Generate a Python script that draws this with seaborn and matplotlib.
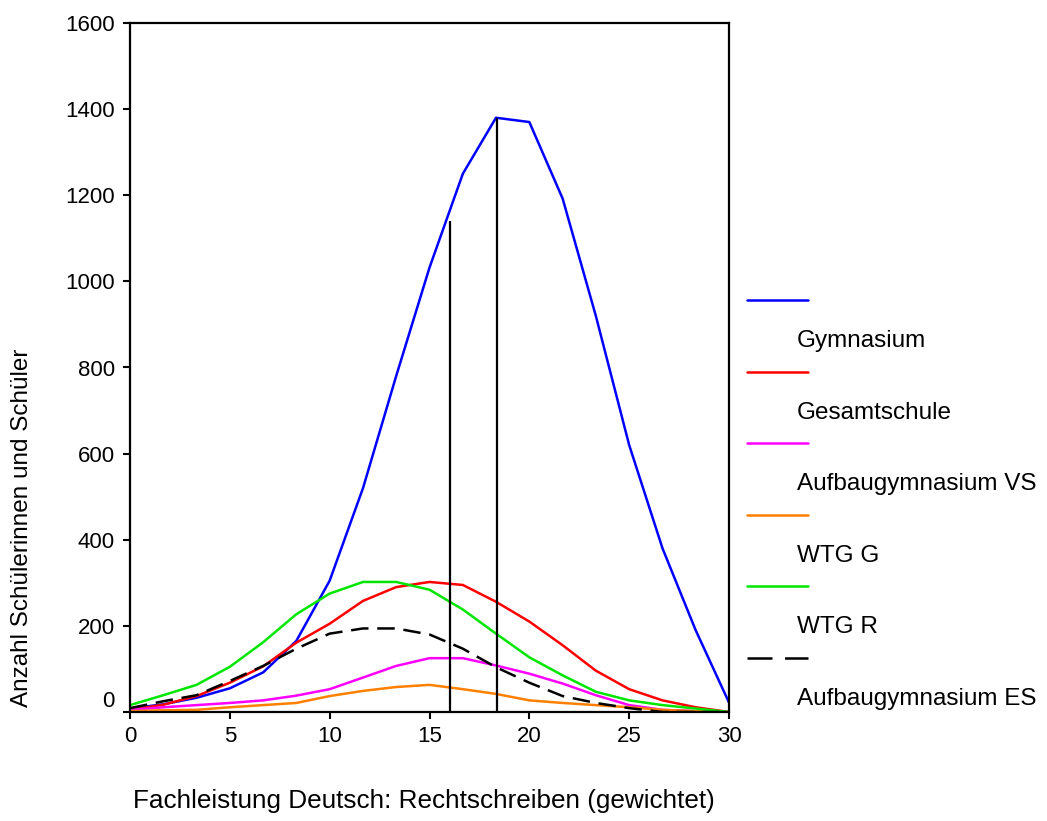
import numpy as np
import pandas as pd
import matplotlib
matplotlib.use("Agg")
import matplotlib.pyplot as plt
import matplotlib.transforms as mtransforms
from matplotlib.lines import Line2D
import seaborn as sns

# ---- data ----
x_points = [0, 1.67, 3.33, 5, 6.67, 8.33, 10, 11.67, 13.33, 15, 16.67, 18.33,
            20, 21.67, 23.33, 25, 26.67, 28.33, 30]

gymnasium = [8, 18, 33, 55, 92, 165, 305, 520, 780, 1032, 1250, 1380,
             1370, 1192, 920, 620, 380, 190, 22]
gesamtschule = [5, 17, 37, 68, 106, 161, 205, 258, 290, 302, 295, 256,
                210, 155, 96, 53, 27, 11, 0]
aufbau_vs = [5, 11, 16, 21, 27, 38, 53, 80, 107, 125, 125, 108,
             89, 66, 39, 16, 5, 2, 0]
wtg_g = [2, 4, 5, 11, 16, 21, 37, 49, 58, 63, 53, 42,
         27, 21, 16, 11, 5, 2, 0]
wtg_r = [16, 39, 63, 105, 162, 227, 275, 302, 302, 284, 238, 182,
         127, 85, 47, 27, 16, 8, 0]
aufbau_es = [9, 25, 39, 72, 107, 147, 182, 194, 194, 180, 147, 104,
             68, 37, 21, 9, 0, 0, 0]

series_names = ["Gymnasium", "Gesamtschule", "Aufbaugymnasium VS",
                "WTG G", "WTG R", "Aufbaugymnasium ES"]
series_values = [gymnasium, gesamtschule, aufbau_vs, wtg_g, wtg_r, aufbau_es]
series_colors = ["#0000ff", "#ff0000", "#ff00ff", "#ff8000", "#00e600", "#000000"]
series_dashes = [(), (), (), (), (), (7, 3.5)]

# reference lines (x position, height)
ref_x = [16.02, 18.38]
ref_top = [1140, 1380]

x_ticks = [0, 5, 10, 15, 20, 25, 30]
y_ticks = [0, 200, 400, 600, 800, 1000, 1200, 1400, 1600]

# ---- build long table ----
frames = []
for name, vals in zip(series_names, series_values):
    frames.append(pd.DataFrame({"x": x_points, "y": vals, "Schulform": name}))
df = pd.concat(frames, ignore_index=True)

sns.set_style("ticks")
plt.rcParams["font.family"] = ["Liberation Sans", "DejaVu Sans"]
plt.rcParams["text.color"] = "black"
plt.rcParams["axes.labelcolor"] = "black"
plt.rcParams["xtick.color"] = "black"
plt.rcParams["ytick.color"] = "black"

TICK_FS = 16
LEG_FS = 17.5
XLAB_FS = 18.8
YLAB_FS = 17.5
LW = 1.8

fig = plt.figure(figsize=(10.47, 8.21), dpi=100)
ax = fig.add_axes([130 / 1047, 1 - 712 / 821, (729 - 130) / 1047, (712 - 23) / 821])

sns.lineplot(data=df, x="x", y="y", hue="Schulform", style="Schulform",
             palette=dict(zip(series_names, series_colors)),
             dashes=dict(zip(series_names, series_dashes)),
             hue_order=series_names, style_order=series_names,
             linewidth=LW, ax=ax, legend=False, sort=False)

ax.vlines(ref_x, 0, ref_top, colors="black", linewidth=1.6)

ax.set_xlim(0, 30)
ax.set_ylim(0, 1600)
ax.set_xticks(x_ticks)
ax.set_yticks(y_ticks)
ax.set_xticklabels([str(t) for t in x_ticks], fontsize=TICK_FS, color="black")
ax.set_yticklabels([str(t) for t in y_ticks], fontsize=TICK_FS, color="black")
ax.tick_params(axis="both", direction="out", length=5, width=1.5, colors="black")
ax.tick_params(axis="x", pad=5)
ax.tick_params(axis="y", pad=6)

# the "0" y label sits slightly above its tick in the reference
lbl0 = ax.get_yticklabels()[0]
lbl0.set_transform(lbl0.get_transform() + mtransforms.ScaledTranslation(0, 13 / 100, fig.dpi_scale_trans))

for sp in ax.spines.values():
    sp.set_visible(True)
    sp.set_linewidth(1.6)
    sp.set_color("black")

ax.set_xlabel("Fachleistung Deutsch: Rechtschreiben (gewichtet)", fontsize=XLAB_FS, color="black")
ax.set_ylabel("Anzahl Schülerinnen und Schüler", fontsize=YLAB_FS, color="black")
ax.xaxis.set_label_coords((424 - 130) / 599, -(801 - 712) / 689, transform=ax.transAxes)
ax.xaxis.label.set_va("center")
ax.yaxis.set_label_coords(-(130 - 22) / 599, (712 - 528) / 689, transform=ax.transAxes)
ax.yaxis.label.set_va("center")
ax.yaxis.label.set_ha("center")

# ---- custom legend: line handle above, label below ----
line_y0 = 300
step = (658 - 300) / 5
for i, (name, col, ds) in enumerate(zip(series_names, series_colors, series_dashes)):
    ly = 1 - (line_y0 + i * step) / 821
    ty = 1 - (line_y0 + i * step + 41) / 821
    ln = Line2D([747 / 1047, 808 / 1047], [ly, ly], transform=fig.transFigure,
                color=col, linewidth=LW)
    if ds:
        ln.set_dashes((10, 5))
    fig.add_artist(ln)
    fig.text(797 / 1047, ty, name, fontsize=LEG_FS, va="center", ha="left", color="black")

fig.savefig("out.png", dpi=100)
